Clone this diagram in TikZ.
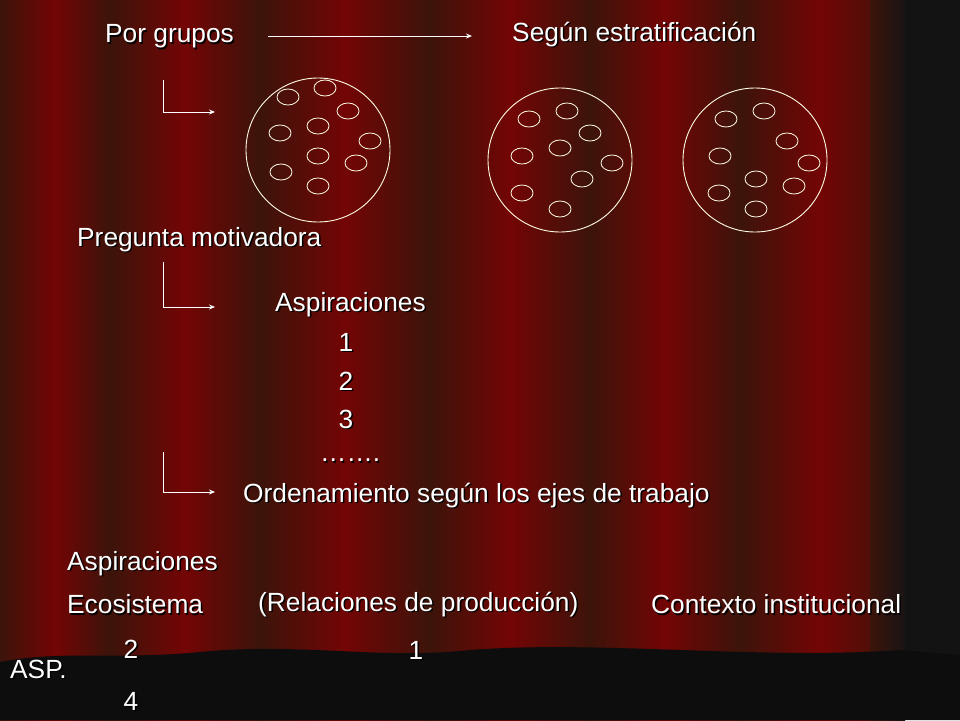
\documentclass[tikz,border=0pt]{standalone}
\usepackage{fontspec}
\setmainfont{Liberation Sans}
\usetikzlibrary{arrows.meta}
\definecolor{dred}{RGB}{115,5,5}
\definecolor{brn}{RGB}{60,20,10}
\definecolor{blk}{RGB}{25,20,20}
\newcommand{\sh}[1]{\rlap{\raisebox{-1.5pt}{\hspace{1.5pt}\textcolor{black}{#1}}}#1}
\tikzset{
  txt/.style={text=white,font=\fontsize{26.3}{28}\selectfont,inner sep=0pt,anchor=west},
  big/.style={draw=white!90!yellow,line width=0.9pt},
  sm/.style={draw=white!90!yellow,line width=0.8pt},
  arr/.style={white,line width=0.8pt,-{Stealth[length=6pt,width=5pt]}},
}
\begin{document}
\begin{tikzpicture}[x=1pt,y=-1pt]
\useasboundingbox (0,0) rectangle (960,720);
\fill[blk] (0,0) rectangle (960,720);
\foreach \a/\b in {0/110,110/260,260/430,430/590,590/740,740/900}{
  \shade[left color=brn,right color=brn,middle color=dred] (\a,0) rectangle (\b,720);
}
\shade[left color=brn,right color=blk] (870,0) rectangle (905,720);
\fill[black!85!gray] (905,0) rectangle (960,720);
\fill[black!95] (0,662) .. controls (60,650) and (120,660) .. (200,652) .. controls (300,642) and (380,660) .. (470,650) .. controls (600,640) and (760,660) .. (900,650) -- (960,655) -- (960,720) -- (0,720) -- cycle;
\node[txt] (pg) at (105,37) {\sh{Por grupos}};
\node[txt] (se) at (512,35) {\sh{Según estratificación}};
\node[txt] (pm) at (77,240) {\sh{Pregunta motivadora}};
\node[txt] (as1) at (275,305) {\sh{Aspiraciones}};
\node[txt,anchor=center] (n1) at (346,343) {\sh{1}};
\node[txt,anchor=center] (n2) at (346,382) {\sh{2}};
\node[txt,anchor=center] (n3) at (346,420) {\sh{3}};
\node[txt] (dots) at (320,461) {\sh{…….}};
\node[txt] (ord) at (243,496) {\sh{Ordenamiento según los ejes de trabajo}};
\node[txt] (as2) at (67,564) {\sh{Aspiraciones}};
\node[txt] (eco) at (67,605) {\sh{Ecosistema}};
\node[txt] (rel) at (258,605) {\sh{(Relaciones de producción)}};
\node[txt] (ctx) at (651,605) {\sh{Contexto institucional}};
\node[txt,anchor=center] (b2) at (131,650) {\sh{2}};
\node[txt,anchor=center] (b1) at (416,651) {\sh{1}};
\node[txt] (asp) at (10,670) {\sh{ASP.}};
\node[txt,anchor=center] (b4) at (131,702) {\sh{4}};
\coordinate (a1s) at (268,36); \coordinate (a1e) at (472,36);
\draw[arr] (a1s) -- (a1e);
\foreach \t/\bt in {80/112,262/307,452/492}{
  \draw[arr] (163,\t) -- (163,\bt) -- (215,\bt);
}
\draw[big] (318,150) circle (72);
\draw[big] (560,160) circle (72);
\draw[big] (755,160) circle (72);
\foreach \p in {(288,97),(325,88),(348,111),(280,133),(318,126),(370,141),(318,156),(356,163),(281,172),(318,186),
 (529,119),(567,111),(590,133),(522,156),(560,148),(612,163),(582,179),(522,193),(560,209),
 (726,119),(764,111),(787,141),(720,156),(809,163),(756,179),(794,186),(719,193),(756,209)}{
  \draw[sm] \p ellipse [x radius=11,y radius=8];
}
\end{tikzpicture}
\end{document}
